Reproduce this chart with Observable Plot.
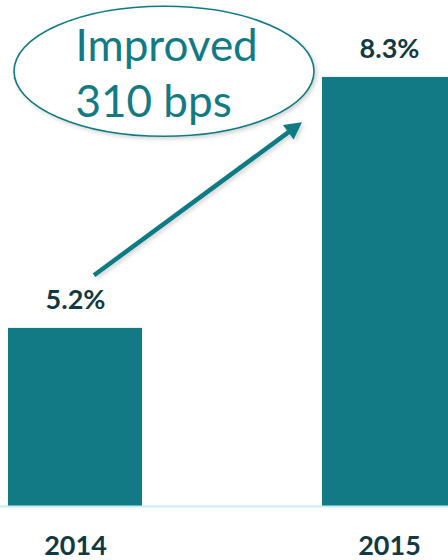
<!DOCTYPE html>
<html>
<head>
<meta charset="utf-8">
<script src="https://cdn.jsdelivr.net/npm/d3@7"></script>
<script src="https://cdn.jsdelivr.net/npm/@observablehq/plot@0.6"></script>
<style>
  html, body { margin: 0; padding: 0; background: #fff; overflow: hidden; }
  #chart svg { display: block; }
</style>
</head>
<body>
<div id="chart"></div>
<script>
// ---- data ----
const years = ["2014", "2015"];
const marginValues = [5.2, 8.3];
const valueLabels = ["5.2%", "8.3%"];
const axisFloor = 3;       // value axis starts at 3%
const axisCeiling = 9.25;
const calloutText = "Improved\n310 bps";
const arrowFrom = {year: "2014", value: 5.85};
const arrowTo = {year: "2015", value: 7.74};
const calloutCenter = {year: "2014", value: 8.37};

const rows = years.map((y, i) => ({year: y, value: marginValues[i], label: valueLabels[i]}));

const teal = "#117a84";
const dark = "#113942";

// custom annotation mark: ellipse + arrow, positioned through plot scales
function callout(index, scales) {
  const xs = scales.x, ys = scales.y;
  const bw = typeof xs.bandwidth === "function" ? xs.bandwidth() : xs.bandwidth;
  const g = d3.create("svg:g");
  const defs = g.append("defs");
  const f = defs.append("filter").attr("id", "shadow").attr("x", "-20%").attr("y", "-20%").attr("width", "140%").attr("height", "140%");
  f.append("feDropShadow").attr("dx", 2).attr("dy", 2).attr("stdDeviation", 2)
    .attr("flood-color", "#000").attr("flood-opacity", 0.18);

  const cx = xs(calloutCenter.year) + 156;
  const cy = ys(calloutCenter.value);
  g.append("ellipse")
    .attr("cx", cx).attr("cy", cy).attr("rx", 150).attr("ry", 65)
    .attr("fill", "#fff").attr("stroke", teal).attr("stroke-width", 1.6)
    .attr("filter", "url(#shadow)");

  const x1 = xs(arrowFrom.year) + bw / 2 + 19, y1 = ys(arrowFrom.value);
  const x2 = xs(arrowTo.year) - 20, y2 = ys(arrowTo.value);
  const dx = x2 - x1, dy = y2 - y1, len = Math.hypot(dx, dy);
  const ux = dx / len, uy = dy / len, px = -uy, py = ux;
  const head = 17, half = 9;
  const bx = x2 - ux * head, by = y2 - uy * head;
  const ag = g.append("g").attr("filter", "url(#shadow)");
  ag.append("line")
    .attr("x1", x1).attr("y1", y1).attr("x2", bx + ux * 2).attr("y2", by + uy * 2)
    .attr("stroke", teal).attr("stroke-width", 4.5);
  ag.append("polygon")
    .attr("points", [[x2, y2], [bx + px * half, by + py * half], [bx - px * half, by - py * half]].map(p => p.join(",")).join(" "))
    .attr("fill", teal);
  return g.node();
}

const chart = Plot.plot({
  width: 448,
  height: 560,
  marginTop: 0,
  marginRight: 0,
  marginBottom: 54,
  marginLeft: 0,
  style: {fontFamily: "Lato, 'Open Sans', sans-serif", background: "#fff", overflow: "hidden"},
  x: {type: "band", domain: years, range: [7, 456], paddingInner: 0.5746, paddingOuter: 0, axis: null},
  y: {domain: [axisFloor, axisCeiling], axis: null},
  marks: [
    Plot.barY(rows, {x: "year", y1: axisFloor, y2: "value", fill: teal}),
    Plot.ruleY([axisFloor], {stroke: "#c6eef4", strokeWidth: 2}),
    Plot.text(rows, {x: "year", y: "value", text: "label", lineAnchor: "bottom", dy: -19,
      fontSize: 27, fontWeight: 700, fill: dark}),
    Plot.text(rows, {x: "year", frameAnchor: "bottom", text: "year", lineAnchor: "bottom", dy: 48,
      fontSize: 27, fontWeight: 700, fill: dark}),
    callout,
    Plot.text([calloutText], {x: () => calloutCenter.year, frameAnchor: "top", text: d => d,
      textAnchor: "start", lineAnchor: "top", dx: 0, dy: 20, lineHeight: 1.28,
      fontSize: 44, fontWeight: 400, fill: teal})
  ]
});
document.getElementById("chart").appendChild(chart);
</script>
</body>
</html>
